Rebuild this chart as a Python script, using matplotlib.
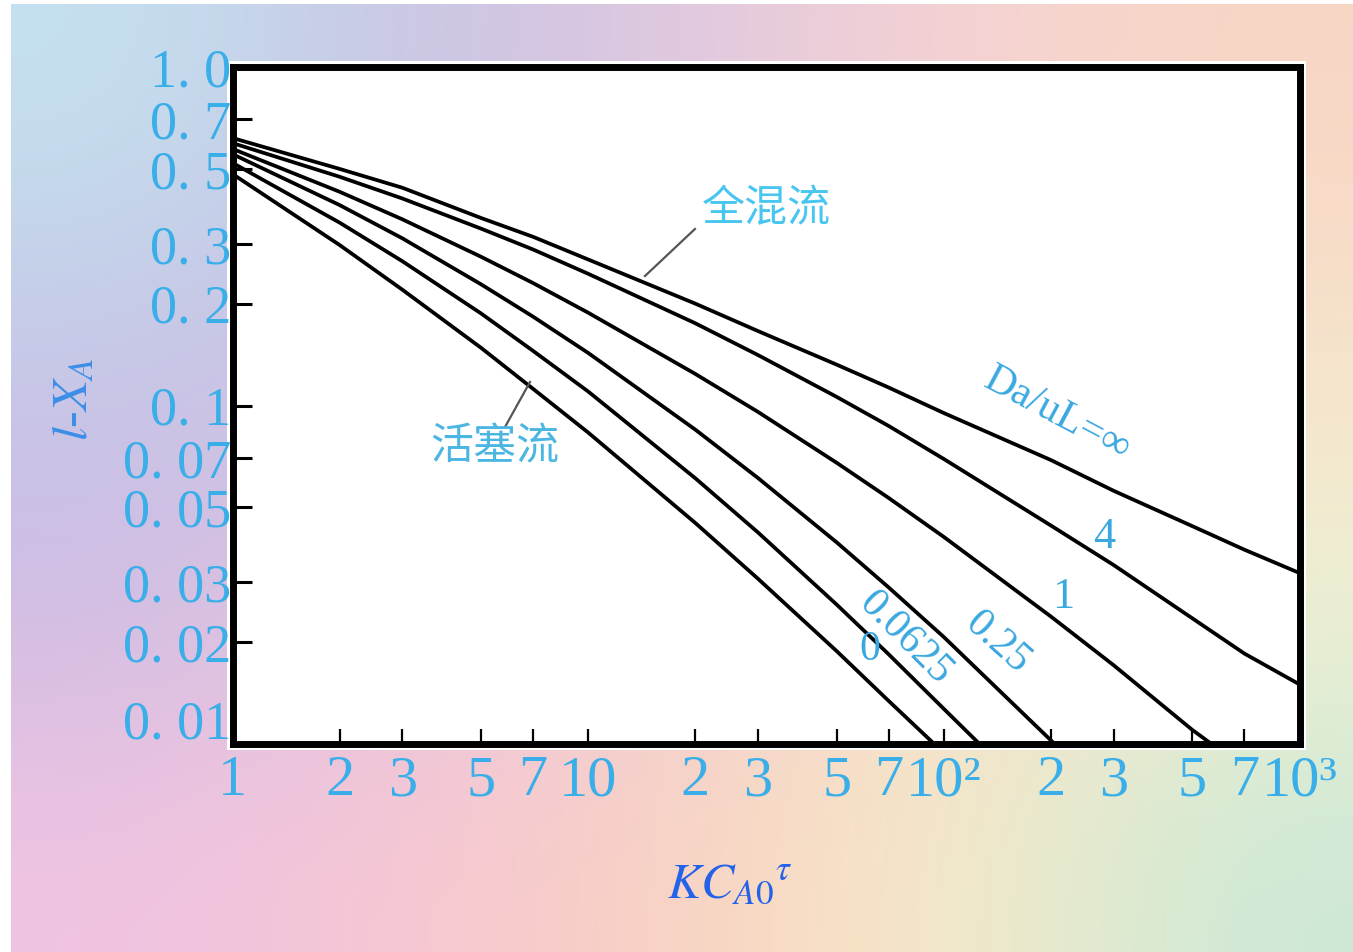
import numpy as np
import matplotlib
matplotlib.use("Agg")
import matplotlib.pyplot as plt
from matplotlib.colors import to_rgb
from matplotlib.transforms import ScaledTranslation
from matplotlib.patches import Rectangle

# ---------------- data ----------------
x_inf = [1, 2, 3, 5, 7, 10, 20, 30, 50, 70, 100, 200, 300, 500, 700, 1000]
y_inf = [0.617, 0.50, 0.44, 0.358, 0.315, 0.27, 0.20, 0.166, 0.132, 0.113,
         0.095, 0.069, 0.056, 0.044, 0.0375, 0.032]

x_4 = [1, 2, 3, 5, 7, 10, 20, 30, 50, 70, 100, 200, 300, 500, 700, 1000]
y_4 = [0.596, 0.474, 0.409, 0.333, 0.289, 0.245, 0.175, 0.141, 0.106, 0.087,
       0.0695, 0.0442, 0.0338, 0.0235, 0.0185, 0.0150]

x_1 = [1, 2, 3, 5, 7, 10, 20, 30, 50, 70, 100, 200, 300, 500, 566]
y_1 = [0.573, 0.428, 0.355, 0.275, 0.230, 0.188, 0.124, 0.0958, 0.0677,
       0.0533, 0.0409, 0.0238, 0.0171, 0.0110, 0.010]

x_025 = [1, 2, 3, 5, 7, 10, 20, 30, 50, 70, 100, 205]
y_025 = [0.553, 0.391, 0.312, 0.228, 0.183, 0.143, 0.0849, 0.0611, 0.0394,
         0.0290, 0.0207, 0.010]

x_00625 = [1, 2, 3, 5, 7, 10, 20, 30, 50, 70, 100, 126]
y_00625 = [0.521, 0.347, 0.267, 0.187, 0.145, 0.110, 0.0610, 0.0422, 0.0258,
           0.0184, 0.0127, 0.010]

x_0 = [1, 2, 3, 5, 7, 10, 20, 30, 50, 70, 94]
y_0 = [0.483, 0.298, 0.220, 0.148, 0.112, 0.0832, 0.045, 0.0308, 0.0188,
       0.0134, 0.010]

x_ticks = [1, 2, 3, 5, 7, 10, 20, 30, 50, 70, 100, 200, 300, 500, 700, 1000]
x_ticklabels = ["1", "2", "3", "5", "7", "10", "2", "3", "5", "7", "10²",
                "2", "3", "5", "7", "10³"]
y_ticks = [1.0, 0.7, 0.5, 0.3, 0.2, 0.1, 0.07, 0.05, 0.03, 0.02, 0.01]
y_ticklabels = ["1. 0", "0. 7", "0. 5", "0. 3", "0. 2", "0. 1", "0. 07",
                "0. 05", "0. 03", "0. 02", "0. 01"]

curve_labels = ["Da/uL=∞", "4", "1", "0.25", "0.0625", "0"]

# ---------------- style ----------------
plt.rcParams["font.family"] = ["Liberation Serif", "DejaVu Serif"]
plt.rcParams["mathtext.fontset"] = "stix"

W, H = 1353, 952
fig = plt.figure(figsize=(W / 100, H / 100), dpi=100, facecolor="white")

# background gradient
grid_hex = [
    ["#c4e2f0", "#c8c4e4", "#e0c8e0", "#f6d2d4", "#f8d6c4"],
    ["#c6c6e6", "#c8bce2", "#e8cade", "#f8d8cc", "#f6e4cc"],
    ["#ccbce4", "#e8c6e2", "#f4d0d4", "#f8e0c8", "#f0f2d4"],
    ["#f0c4e2", "#f8c6d2", "#f8d2c0", "#f8ecc8", "#cce8d6"],
]
grid = np.array([[to_rgb(c) for c in row] for row in grid_hex])
bg = fig.add_axes([11 / W, 0, 1 - 11 / W, 1 - 4 / H], zorder=-5)
bg.imshow(grid, aspect="auto", interpolation="bicubic", extent=[0, 1, 0, 1])
bg.set_axis_off()
# white frame behind plot area
bg.add_patch(Rectangle((227 / W, (H - 750) / H), (1306 - 227) / W,
                       (750 - 61) / H, transform=fig.transFigure,
                       facecolor="white", edgecolor="none", zorder=5,
                       clip_on=False))

L, R, T, B = 232.5, 1299.5, 67, 744
ax = fig.add_axes([L / W, (H - B) / H, (R - L) / W, (B - T) / H], zorder=1)
ax.set_facecolor("white")
ax.set_xscale("log")
ax.set_yscale("log")
ax.set_xlim(1, 1000)
ax.set_ylim(0.01, 1.0)

for xs, ys in [(x_inf, y_inf), (x_4, y_4), (x_1, y_1), (x_025, y_025),
               (x_00625, y_00625), (x_0, y_0)]:
    ax.plot(xs, ys, color="black", lw=2.7, solid_capstyle="butt",
            solid_joinstyle="round")

for s in ax.spines.values():
    s.set_linewidth(5)
    s.set_color("black")

tick_color = "#3aaee8"
ax.xaxis.set_major_locator(matplotlib.ticker.FixedLocator(x_ticks))
ax.xaxis.set_minor_locator(matplotlib.ticker.NullLocator())
ax.yaxis.set_major_locator(matplotlib.ticker.FixedLocator(y_ticks))
ax.yaxis.set_minor_locator(matplotlib.ticker.NullLocator())
ax.set_xticklabels(x_ticklabels)
ax.set_yticklabels(y_ticklabels)
ax.tick_params(axis="x", direction="in", length=11, width=1.6, color="black",
               labelsize=42, labelcolor=tick_color, pad=8)
ax.tick_params(axis="y", direction="in", length=14, width=2.2, color="black",
               labelsize=39, labelcolor=tick_color, pad=1)

# nudge the bottom y label upward as in the reference
lab = ax.get_yticklabels()[-1]
lab.set_transform(lab.get_transform() + ScaledTranslation(0, 0.25, fig.dpi_scale_trans))

# curve labels
lab_color = "#3aa8e0"
ax.text(0.7727, 0.486, curve_labels[0], transform=ax.transAxes, rotation=-28,
        ha="center", va="center", fontsize=30, color=lab_color)
ax.text(0.8168, 0.3058, curve_labels[1], transform=ax.transAxes,
        ha="center", va="center", fontsize=32, color=lab_color)
ax.text(0.7784, 0.2171, curve_labels[2], transform=ax.transAxes,
        ha="center", va="center", fontsize=32, color=lab_color)
ax.text(0.7165, 0.1492, curve_labels[3], transform=ax.transAxes, rotation=-42,
        ha="center", va="center", fontsize=30, color=lab_color)
ax.text(0.6303, 0.1566, curve_labels[4], transform=ax.transAxes, rotation=-45,
        ha="center", va="center", fontsize=30, color=lab_color)
ax.text(0.5975, 0.1388, curve_labels[5], transform=ax.transAxes,
        ha="center", va="center", fontsize=30, color=lab_color)

# Chinese annotations with leader lines
cjk = ["Noto Sans CJK SC", "DejaVu Sans"]
ax.text(0.50, 0.790, "全混流", transform=ax.transAxes, ha="center", va="center",
        fontsize=31, color="#48c6f0", family=cjk)
ax.plot([0.4334, 0.3866], [0.7607, 0.6913], transform=ax.transAxes,
        color="#555555", lw=1.6)
ax.text(0.246, 0.4387, "活塞流", transform=ax.transAxes, ha="center", va="center",
        fontsize=31, color="#4cb6e2", family=cjk)
ax.plot([0.2788, 0.2554], [0.5347, 0.4682], transform=ax.transAxes,
        color="#555555", lw=1.6)

# axis titles
fig.text(75 / W, (H - 400) / H, r"$l$-$X_A$", rotation=90, ha="center",
         va="center", fontsize=36, color="#3c8ee8")
fig.text(730 / W, (H - 885) / H, r"$KC_{A0}{}^{\tau}$", ha="center",
         va="center", fontsize=36, color="#2462ea")

fig.savefig("out.png", dpi=100, facecolor="white")
